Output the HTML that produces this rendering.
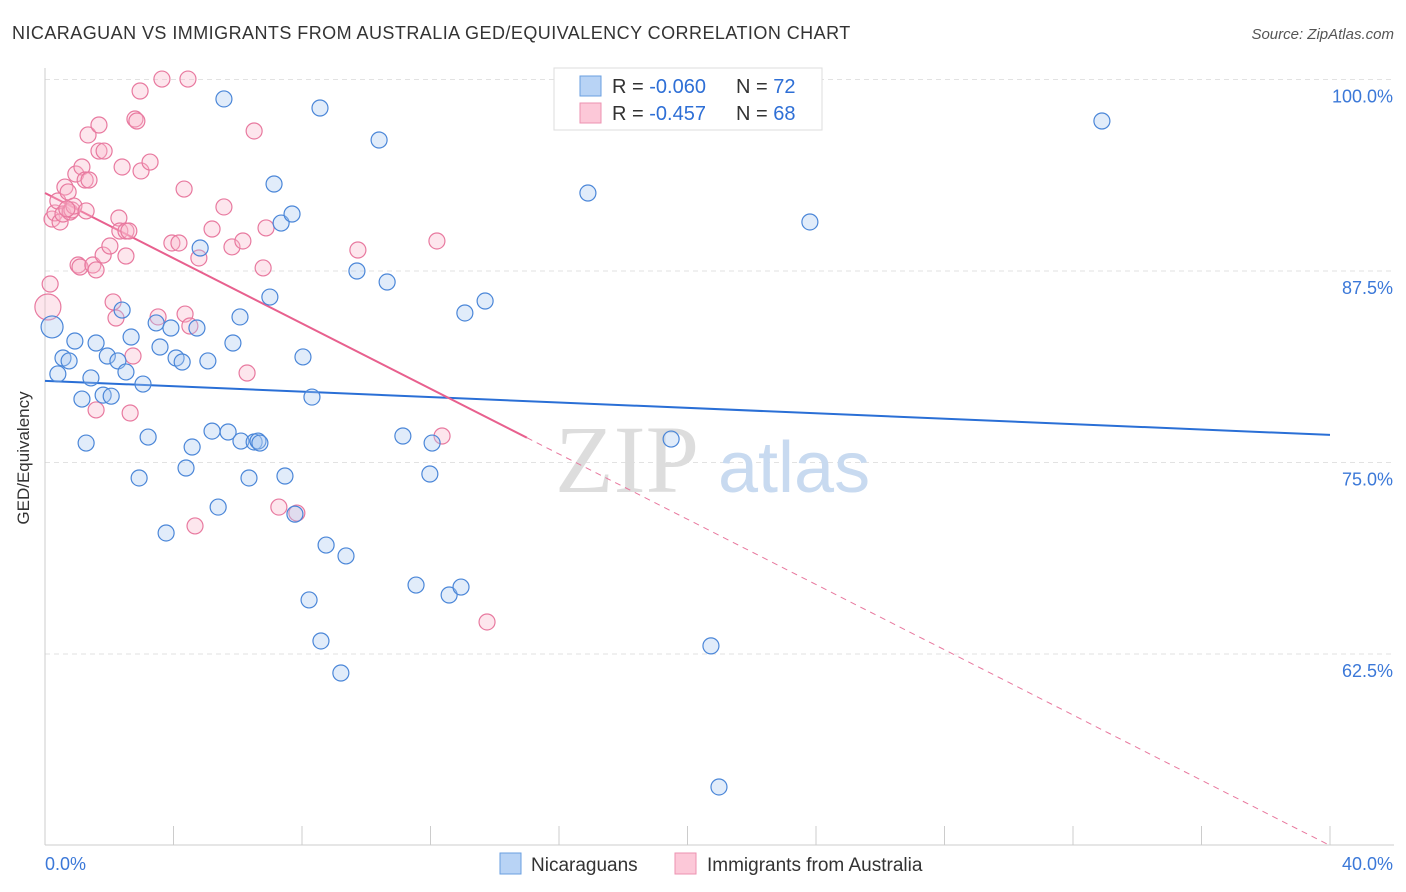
<!DOCTYPE html>
<html><head><meta charset="utf-8"><style>
body{margin:0;background:#fff;font-family:"Liberation Sans",sans-serif;}
svg{display:block}
</style></head><body>
<svg id="chart" width="1406" height="892" xmlns="http://www.w3.org/2000/svg">
<text x="12" y="39" font-size="18" fill="#333" letter-spacing="0.45">NICARAGUAN VS IMMIGRANTS FROM AUSTRALIA GED/EQUIVALENCY CORRELATION CHART</text>
<text x="1394" y="39" font-size="15" fill="#555" font-style="italic" text-anchor="end">Source: ZipAtlas.com</text>
<g id="grid"></g>
<g><text x="555" y="492" font-size="96" font-family="Liberation Serif,serif" fill="#ddd">ZIP</text><text x="718" y="492" font-size="72" fill="#c8daf0">atlas</text></g>
<g id="axes"></g>
<g id="lines"></g>
<g id="points"></g>
<text x="29" y="458" font-size="17" fill="#333" transform="rotate(-90 29 458)" text-anchor="middle">GED/Equivalency</text>
<g>
<rect x="554" y="68" width="268" height="62" fill="#fff" stroke="#ddd"/>
<rect x="580" y="76" width="21" height="20" fill="#b8d3f5" stroke="#6a9fe0"/>
<rect x="580" y="103" width="21" height="20" fill="#fcc8d8" stroke="#ec92b0"/>
<text x="612" y="93" font-size="20" fill="#333">R = <tspan fill="#2e6fd6">-0.060</tspan></text>
<text x="736" y="93" font-size="20" fill="#333">N = <tspan fill="#2e6fd6">72</tspan></text>
<text x="612" y="120" font-size="20" fill="#333">R = <tspan fill="#2e6fd6"> -0.457</tspan></text>
<text x="736" y="120" font-size="20" fill="#333">N = <tspan fill="#2e6fd6">68</tspan></text>
</g>
<g>
<rect x="500" y="853" width="21" height="21" fill="#b8d3f5" stroke="#6a9fe0"/>
<text x="531" y="871" font-size="19" fill="#333">Nicaraguans</text>
<rect x="675" y="853" width="21" height="21" fill="#fcc8d8" stroke="#ec92b0"/>
<text x="707" y="871" font-size="19" fill="#333">Immigrants from Australia</text>
</g>
</svg>
<script>
const xTicks=[0,4,8,12,16,20,24,28,32,36,40];
const yTicks=[62.5,75,87.5,100];
const yTickLabels=["62.5%","75.0%","87.5%","100.0%"];
const blueX=[0.22,0.40,0.56,0.75,0.93,1.15,1.28,1.43,1.59,1.81,1.94,2.06,2.27,2.40,2.52,2.68,3.05,3.21,2.93,3.46,3.58,3.77,3.92,4.08,4.27,4.39,4.58,4.73,4.83,5.07,5.20,5.39,5.57,5.70,5.85,6.07,6.10,6.35,6.51,6.63,6.69,7.00,7.13,7.35,7.47,7.69,7.78,8.03,8.22,8.31,8.56,8.59,8.75,9.21,9.37,9.71,10.40,10.65,11.14,11.55,11.98,12.05,12.58,12.95,13.07,13.70,16.90,19.49,20.73,20.98,23.81,32.90];
const blueY=[83.85,80.78,81.82,81.63,82.93,79.14,76.27,80.52,82.80,79.40,81.95,79.33,81.63,84.95,80.91,83.19,80.12,76.66,73.99,84.11,82.54,70.40,83.78,81.82,81.56,74.64,76.01,83.78,89.00,81.63,77.05,72.09,98.73,76.99,82.80,84.50,76.40,73.99,76.34,76.40,76.27,85.80,93.18,90.63,74.12,91.22,71.63,81.89,66.03,79.27,98.14,63.35,69.61,61.26,68.90,87.50,96.05,86.78,76.73,67.00,74.25,76.27,66.35,66.87,84.76,85.54,92.59,76.53,63.03,53.82,90.70,97.29];
const pinkX=[0.09,0.16,0.22,0.31,0.40,0.47,0.56,0.62,0.72,0.78,0.84,0.90,0.96,1.03,1.09,1.15,1.25,1.34,1.37,1.49,1.59,1.59,1.68,1.68,1.81,1.84,2.02,2.12,2.21,2.30,2.33,2.40,2.52,2.52,2.61,2.65,2.74,2.80,2.86,2.96,2.99,3.27,3.52,3.64,3.95,4.17,4.33,4.36,4.45,4.51,4.67,4.79,5.20,5.57,5.82,6.16,6.29,6.51,6.79,6.88,7.28,7.84,9.74,12.20,12.36,13.76,1.28,0.68];
const pinkY=[85.15,86.65,90.89,91.29,92.07,90.70,91.22,92.98,92.66,91.35,91.48,91.74,93.83,87.89,87.76,94.29,93.44,96.38,93.44,87.89,87.57,78.43,97.03,95.33,88.54,95.33,89.13,85.48,84.43,90.96,90.11,94.29,88.48,90.11,90.11,78.23,81.95,97.42,97.29,99.25,94.03,94.61,84.50,100.03,89.33,89.33,92.85,84.69,100.03,83.91,70.86,88.35,90.24,91.68,89.07,89.46,80.84,96.64,87.70,90.31,72.09,71.70,88.87,89.46,76.73,64.59,91.42,91.55];
const blueTrend=[80.33,76.80];
const pinkTrend=[92.59,50.0];
const pinkSolidEnd=15.0;

const NS="http://www.w3.org/2000/svg";
const X=v=>45+v*32.125;
const Y=v=>79.5+(100-v)*15.32;
function mk(tag,attrs,parent){const e=document.createElementNS(NS,tag);for(const k in attrs)e.setAttribute(k,attrs[k]);parent.appendChild(e);return e;}
const grid=document.getElementById('grid'),axes=document.getElementById('axes'),lines=document.getElementById('lines'),pts=document.getElementById('points');
yTicks.forEach((t,i)=>{
  const l=mk('line',{x1:45,x2:1394,y1:Y(t),y2:Y(t),stroke:'#e2e2e2','stroke-dasharray':'5,4'},grid);
  
  
  const tx=mk('text',{x:1393,y:Y(t)+23,'font-size':18,fill:'#3b78d8','text-anchor':'end'},axes);
  tx.textContent=yTickLabels[i];
  
  
});
const ax=mk('line',{x1:45,x2:1394,y1:845,y2:845,stroke:'#ccc'},axes);


const ay=mk('line',{x1:45,x2:45,y1:68,y2:845,stroke:'#ccc'},axes);


xTicks.forEach(t=>{
  const l=mk('line',{x1:X(t),x2:X(t),y1:826,y2:845,stroke:'#ccc'},axes);
  
  
});
const xl0=mk('text',{x:45,y:870,'font-size':18,fill:'#3b78d8'},axes);xl0.textContent=xTicks[0].toFixed(1)+'%';


const xl1=mk('text',{x:1393,y:870,'font-size':18,fill:'#3b78d8','text-anchor':'end'},axes);xl1.textContent=xTicks[xTicks.length-1].toFixed(1)+'%';



function dot(x,y,fill,stroke,r,name){
  const c=mk('circle',{cx:X(x),cy:Y(y),r:r,fill:fill,'fill-opacity':0.35,stroke:stroke,'stroke-width':1.2},pts);
  
  
}
pinkX.forEach((x,i)=>dot(x,pinkY[i],'#f8b6cc','#e8799f',i===0?13:8,'point-australia'));
blueX.forEach((x,i)=>dot(x,blueY[i],'#a9c8f2','#4a86d8',i===0?11:8,'point-nicaraguan'));

const pAt=x=>pinkTrend[0]+(pinkTrend[1]-pinkTrend[0])*x/40;
const bl=mk('line',{x1:X(0),y1:Y(blueTrend[0]),x2:X(40),y2:Y(blueTrend[1]),stroke:'#2a6fd6','stroke-width':2},lines);


const pl=mk('line',{x1:X(0),y1:Y(pAt(0)),x2:X(pinkSolidEnd),y2:Y(pAt(pinkSolidEnd)),stroke:'#e8608e','stroke-width':2},lines);


const pd=mk('line',{x1:X(pinkSolidEnd),y1:Y(pAt(pinkSolidEnd)),x2:X(40),y2:Y(pAt(40)),stroke:'#e8789e','stroke-width':1,'stroke-dasharray':'6,5'},lines);


</script>
</body></html>
